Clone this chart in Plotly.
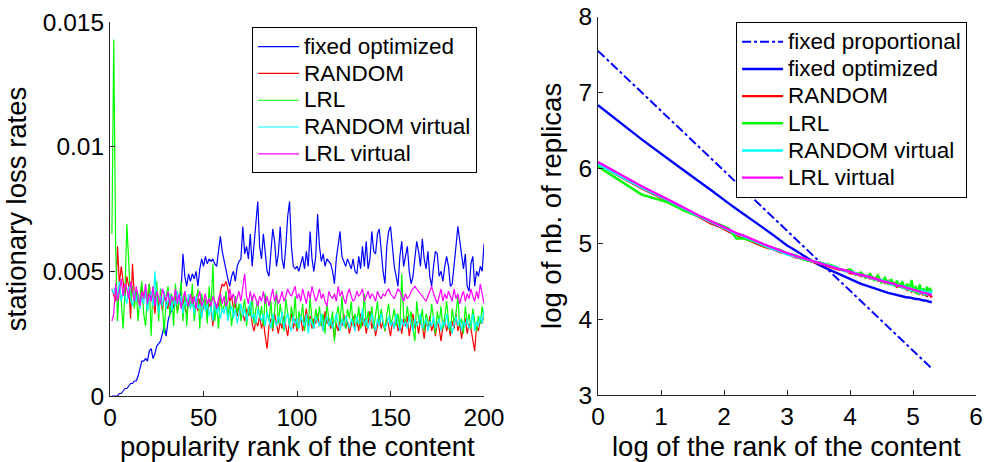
import numpy as np
import plotly.graph_objects as go

# ---------------- Left panel data (loss rates, units of 1e-4) ----------------
rank_left = list(range(1, 201))

loss_fixed_opt_e4 = [
    0, 0, 0, 0, 1, 1, 2, 3, 3, 4,
    5, 5, 6, 6, 8, 11, 14, 14, 15, 14,
    18, 19, 15, 17, 20, 21, 22, 25, 28, 24,
    30, 33, 34, 36, 38, 40, 39, 42, 57, 48,
    44, 49, 46, 49, 47, 50, 44, 51, 55, 52,
    56, 53, 55, 54, 55, 53, 52, 57, 64, 58,
    54, 50, 47, 44, 48, 50, 46, 52, 54, 55,
    68, 57, 60, 55, 65, 52, 62, 70, 78, 60,
    55, 65, 58, 50, 48, 56, 67, 62, 52, 57,
    68, 55, 51, 60, 72, 78, 60, 52, 51, 52,
    50, 53, 56, 51, 58, 52, 66, 55, 50, 56,
    73, 60, 54, 57, 52, 55, 54, 53, 50, 45,
    55, 60, 66, 56, 54, 52, 55, 53, 51, 55,
    50, 49, 56, 51, 60, 52, 62, 51, 55, 66,
    58, 57, 65, 67, 58, 50, 45, 60, 66, 68,
    60, 52, 48, 44, 56, 62, 52, 56, 60, 50,
    45, 48, 56, 62, 58, 52, 63, 55, 51, 58,
    48, 44, 52, 58, 57, 48, 50, 46, 52, 56,
    52, 44, 45, 54, 60, 68, 62, 55, 51, 57,
    44, 42, 53, 56, 44, 50, 48, 52, 50, 61,
]

loss_random_e4 = [
    43, 40, 38, 60, 45, 52, 47, 40, 48, 44,
    31, 53, 40, 42, 38, 36, 44, 40, 42, 35,
    45, 38, 40, 33, 42, 36, 39, 34, 40, 37,
    35, 41, 38, 36, 40, 34, 38, 36, 39, 35,
    33, 38, 36, 40, 35, 37, 34, 39, 32, 36,
    38, 33, 37, 35, 28, 38, 34, 36, 42, 45,
    44, 46, 43, 38, 40, 35, 37, 32, 36, 31,
    33, 30, 35, 32, 36, 29, 26, 30, 28, 32,
    27, 30, 24, 19, 28, 31, 26, 33, 29, 25,
    30, 27, 32, 28, 24, 30, 33, 27, 31, 26,
    29, 32, 26, 30, 35, 28, 32, 27, 31, 29,
    33, 28, 30, 26, 34, 29, 31, 27, 30, 23,
    29, 26, 31, 28, 33, 27, 30, 25, 29, 32,
    27, 30, 26, 33, 28, 31, 25, 29, 34, 27,
    30, 24, 28, 32, 27, 30, 26, 31, 28, 24,
    30, 27, 33, 26, 29, 25, 31, 28, 32, 24,
    29, 33, 27, 30, 25, 31, 28, 23, 30, 27,
    32, 26, 29, 24, 30, 27, 22, 28, 31, 26,
    29, 24, 30, 27, 33, 26, 29, 23, 28, 31,
    25, 29, 27, 22, 18, 28, 26, 31, 29, 33,
]

loss_lrl_e4 = [
    65, 143, 60, 30, 45, 38, 27, 42, 69, 50,
    38, 44, 35, 42, 30, 40, 46, 33, 28, 40,
    45, 24, 44, 38, 46, 30, 43, 36, 25, 40,
    44, 32, 41, 28, 45, 33, 38, 46, 30, 42,
    28, 40, 35, 45, 30, 38, 43, 27, 41, 36,
    39, 29, 44, 34, 53, 30, 37, 27, 40, 34,
    36, 42, 31, 38, 28, 35, 40, 33, 37, 30,
    34, 39, 28, 36, 32, 40, 29, 35, 38, 31,
    36, 28, 41, 33, 30, 38, 27, 35, 42, 29,
    37, 31, 26, 39, 33, 28, 36, 30, 40, 27,
    34, 30, 37, 26, 32, 29, 39, 31, 27, 35,
    30, 36, 28, 33, 25, 37, 31, 28, 34, 22,
    32, 36, 29, 40, 30, 27, 35, 31, 38, 28,
    33, 29, 36, 27, 31, 41, 28, 34, 30, 36,
    27, 32, 38, 29, 35, 30, 26, 33, 37, 29,
    31, 35, 28, 33, 27, 49, 32, 29, 36, 30,
    34, 27, 22, 38, 31, 29, 35, 26, 33, 30,
    28, 37, 31, 25, 34, 29, 36, 27, 32, 38,
    30, 26, 35, 29, 33, 40, 28, 31, 25, 36,
    29, 33, 27, 35, 30, 26, 32, 29, 36, 31,
]

loss_random_virtual_e4 = [
    43, 41, 44, 40, 46, 38, 42, 40, 37, 44,
    39, 36, 42, 38, 41, 35, 40, 37, 43, 34,
    39, 42, 36, 50, 38, 33, 40, 36, 42, 35,
    38, 41, 34, 39, 36, 42, 37, 40, 33, 38,
    36, 41, 35, 38, 33, 40, 35, 37, 31, 38,
    34, 37, 32, 36, 30, 38, 33, 36, 31, 35,
    33, 37, 30, 34, 36, 31, 35, 29, 33, 37,
    32, 35, 30, 34, 38, 31, 33, 29, 35, 32,
    30, 33, 28, 34, 31, 27, 33, 30, 28, 32,
    29, 34, 27, 31, 33, 28, 26, 32, 29, 31,
    27, 32, 30, 28, 33, 25, 31, 29, 27, 32,
    30, 28, 33, 26, 30, 32, 28, 31, 27, 30,
    33, 29, 26, 31, 28, 32, 30, 27, 31, 29,
    26, 32, 29, 30, 35, 28, 31, 27, 30, 33,
    29, 26, 31, 28, 33, 30, 27, 29, 32, 28,
    30, 27, 33, 29, 26, 31, 28, 30, 27, 32,
    29, 26, 31, 28, 30, 33, 27, 29, 31, 26,
    30, 28, 32, 27, 29, 31, 26, 30, 28, 33,
    27, 30, 25, 29, 32, 28, 31, 26, 30, 28,
    31, 27, 29, 33, 26, 30, 28, 32, 29, 35,
]

loss_lrl_virtual_e4 = [
    30, 33, 45, 38, 42, 47, 40, 45, 43, 39,
    46, 41, 38, 44, 40, 36, 42, 39, 45, 37,
    41, 38, 44, 36, 42, 39, 37, 43, 40, 38,
    42, 36, 40, 38, 43, 37, 41, 35, 39, 42,
    38, 36, 41, 37, 40, 35, 39, 42, 36, 38,
    41, 37, 39, 36, 40, 38, 35, 39, 41, 37,
    40, 36, 38, 43, 39, 41, 37, 40, 42, 38,
    44, 49, 40, 37, 42, 38, 41, 39, 36, 40,
    38, 42, 37, 40, 36, 39, 43, 38, 41, 37,
    39, 42, 38, 40, 43, 41, 40, 42, 44, 39,
    41, 38, 43, 40, 37, 42, 39, 44, 41, 38,
    40, 43, 39, 41, 38, 36, 42, 40, 39, 41,
    38, 44, 40, 42, 39, 37, 41, 43, 40, 38,
    39, 42, 40, 41, 43, 38, 40, 42, 39, 41,
    40, 38, 42, 40, 39, 41, 40, 42, 43, 41,
    40, 39, 41, 43, 42, 40, 38, 41, 39, 40,
    42, 43, 44, 43, 42, 41, 40, 39, 38, 40,
    42, 44, 41, 39, 37, 40, 43, 38, 41, 39,
    42, 40, 38, 43, 39, 41, 37, 40, 42, 38,
    41, 39, 43, 40, 38, 42, 39, 45, 41, 37,
]

left_x_ticks = [0, 50, 100, 150, 200]
left_y_ticks = [0, 0.005, 0.01, 0.015]
left_y_ticktext = ["0", "0.005", "0.01", "0.015"]

# ---------------- Right panel data (log of nb. of replicas) ----------------
rank_right = [1, 2, 3, 4, 5, 6, 7, 8, 9, 10,
              12, 14, 16, 18, 20, 23, 26, 30, 35, 40,
              45, 50, 55, 60, 65, 70, 75, 80, 85, 90,
              95, 100, 105, 110, 115, 120, 125, 130, 135, 140,
              145, 150, 155, 160, 165, 170, 175, 180, 185, 190,
              195, 200]

rep_fixed_prop = [7.55, 7.00, 6.68, 6.45, 6.27, 6.13, 6.01, 5.90, 5.81, 5.72,
                  5.58, 5.46, 5.35, 5.26, 5.17, 5.06, 4.97, 4.85, 4.73, 4.62,
                  4.53, 4.45, 4.37, 4.30, 4.24, 4.18, 4.13, 4.07, 4.03, 3.98,
                  3.94, 3.90, 3.86, 3.82, 3.79, 3.75, 3.72, 3.69, 3.66, 3.63,
                  3.60, 3.58, 3.55, 3.53, 3.50, 3.48, 3.45, 3.43, 3.41, 3.39,
                  3.37, 3.35]

rep_fixed_opt = [6.83, 6.38, 6.13, 5.95, 5.82, 5.71, 5.61, 5.53, 5.46, 5.40,
                 5.29, 5.20, 5.12, 5.04, 4.98, 4.91, 4.84, 4.77, 4.70, 4.65,
                 4.60, 4.56, 4.53, 4.50, 4.47, 4.45, 4.43, 4.41, 4.39, 4.38,
                 4.36, 4.35, 4.34, 4.33, 4.32, 4.31, 4.30, 4.30, 4.29, 4.29,
                 4.28, 4.28, 4.27, 4.27, 4.26, 4.26, 4.25, 4.25, 4.24, 4.24,
                 4.23, 4.23]

rep_random = [6.05, 5.73, 5.57, 5.44, 5.35, 5.27, 5.22, 5.16, 5.12, 5.08,
              5.02, 4.96, 4.93, 4.89, 4.87, 4.82, 4.80, 4.76, 4.73, 4.69,
              4.66, 4.65, 4.61, 4.61, 4.57, 4.58, 4.54, 4.55, 4.51, 4.52,
              4.48, 4.51, 4.46, 4.48, 4.43, 4.46, 4.42, 4.44, 4.39, 4.42,
              4.37, 4.41, 4.35, 4.39, 4.34, 4.37, 4.32, 4.36, 4.30, 4.35,
              4.31, 4.29]

rep_lrl = [6.02, 5.65, 5.55, 5.43, 5.36, 5.29, 5.25, 5.20, 5.07, 5.07,
           5.03, 4.97, 4.94, 4.92, 4.87, 4.85, 4.79, 4.77, 4.74, 4.72,
           4.68, 4.64, 4.66, 4.59, 4.62, 4.55, 4.60, 4.52, 4.58, 4.49,
           4.55, 4.46, 4.53, 4.44, 4.51, 4.42, 4.50, 4.40, 4.47, 4.38,
           4.52, 4.36, 4.44, 4.33, 4.46, 4.35, 4.41, 4.32, 4.43, 4.37,
           4.40, 4.36]

rep_random_virtual = [6.05, 5.74, 5.58, 5.45, 5.36, 5.29, 5.23, 5.18, 5.13, 5.10,
                      5.03, 4.98, 4.93, 4.90, 4.86, 4.83, 4.80, 4.77, 4.74, 4.71,
                      4.68, 4.64, 4.63, 4.61, 4.58, 4.58, 4.55, 4.54, 4.52, 4.52,
                      4.49, 4.50, 4.46, 4.47, 4.45, 4.45, 4.42, 4.44, 4.40, 4.42,
                      4.38, 4.40, 4.37, 4.38, 4.35, 4.38, 4.34, 4.37, 4.33, 4.36,
                      4.34, 4.38]

rep_lrl_virtual = [6.08, 5.76, 5.59, 5.46, 5.37, 5.30, 5.24, 5.19, 5.14, 5.11,
                   5.04, 4.99, 4.95, 4.91, 4.88, 4.84, 4.81, 4.78, 4.74, 4.70,
                   4.67, 4.65, 4.63, 4.60, 4.59, 4.57, 4.56, 4.54, 4.53, 4.51,
                   4.50, 4.49, 4.48, 4.47, 4.45, 4.44, 4.43, 4.43, 4.41, 4.41,
                   4.40, 4.39, 4.38, 4.38, 4.37, 4.36, 4.35, 4.35, 4.34, 4.33,
                   4.33, 4.32]

right_x_ticks = [0, 1, 2, 3, 4, 5, 6]
right_y_ticks = [3, 4, 5, 6, 7, 8]

# ---------------- Figure ----------------
BLUE, RED, GREEN, CYAN, MAGENTA = "#0000ff", "#ff0000", "#00ff00", "#00ffff", "#ff00ff"
FONT = "Liberation Sans, Arial, sans-serif"


def lg(name):
    # legend label rendered a bit larger than the (row-height-driving) legend font
    return '<span style="font-size:22.5px">' + name + '</span>'


fig = go.Figure()

xl = np.array(rank_left)
left_series = [
    ("fixed optimized", loss_fixed_opt_e4, BLUE),
    ("RANDOM", loss_random_e4, RED),
    ("LRL", loss_lrl_e4, GREEN),
    ("RANDOM virtual", loss_random_virtual_e4, CYAN),
    ("LRL virtual", loss_lrl_virtual_e4, MAGENTA),
]
for name, vals, col in left_series:
    fig.add_trace(go.Scatter(
        x=xl, y=np.array(vals) * 1e-4, mode="lines", name=lg(name),
        line=dict(color=col, width=1.2), xaxis="x", yaxis="y", legend="legend",
    ))

xr = np.log(np.array(rank_right))
fig.add_trace(go.Scatter(
    x=xr, y=rep_fixed_prop, mode="lines", name=lg("fixed proportional"),
    line=dict(color=BLUE, width=2, dash="dashdot"), xaxis="x2", yaxis="y2", legend="legend2",
))
right_series = [
    ("fixed optimized", rep_fixed_opt, BLUE),
    ("RANDOM", rep_random, RED),
    ("LRL", rep_lrl, GREEN),
    ("RANDOM virtual", rep_random_virtual, CYAN),
    ("LRL virtual", rep_lrl_virtual, MAGENTA),
]
for name, vals, col in right_series:
    fig.add_trace(go.Scatter(
        x=xr, y=vals, mode="lines", name=lg(name),
        line=dict(color=col, width=2.4), xaxis="x2", yaxis="y2", legend="legend2",
    ))

axis_common = dict(
    showline=True, linecolor="#262626", linewidth=1, ticks="inside", ticklen=5,
    tickcolor="#262626", showgrid=False, zeroline=False, mirror=False, automargin=False,
    tickfont=dict(family=FONT, size=24.5, color="black"),
)
title_font = dict(family=FONT, size=27.5, color="black")

fig.update_layout(
    width=986, height=462,
    margin=dict(l=0, r=0, t=0, b=0),
    paper_bgcolor="white", plot_bgcolor="white",
    font=dict(family=FONT, color="black"),
    xaxis=dict(domain=[0.1116, 0.4909], range=[0, 200], tickvals=left_x_ticks,
               anchor="y", **axis_common),
    yaxis=dict(domain=[0.1429, 0.9524], range=[0, 0.015], tickvals=left_y_ticks,
               ticktext=left_y_ticktext,
               title=dict(text="stationary loss rates", font=title_font, standoff=8),
               anchor="x", **axis_common),
    xaxis2=dict(domain=[0.6065, 0.9899], range=[0, 6], tickvals=right_x_ticks,
                anchor="y2", **axis_common),
    yaxis2=dict(domain=[0.145, 0.9636], range=[3, 8], tickvals=right_y_ticks,
                title=dict(text="log of nb. of replicas", font=title_font, standoff=8),
                anchor="x2", **axis_common),
    legend=dict(x=0.2556, y=0.941, xanchor="left", yanchor="top",
                bgcolor="white", bordercolor="black", borderwidth=1, itemwidth=41,
                font=dict(family=FONT, size=18.3, color="black"), tracegroupgap=0),
    legend2=dict(x=0.7465, y=0.952, xanchor="left", yanchor="top",
                 bgcolor="white", bordercolor="black", borderwidth=1, itemwidth=41,
                 font=dict(family=FONT, size=18.6, color="black"), tracegroupgap=0),
    showlegend=True,
    annotations=[
        dict(text="popularity rank of the content", xref="paper", yref="paper",
             x=0.3019, y=0.0725, xanchor="center", yanchor="top", showarrow=False,
             font=title_font),
        dict(text="log of the rank of the content", xref="paper", yref="paper",
             x=0.7977, y=0.0725, xanchor="center", yanchor="top", showarrow=False,
             font=title_font),
    ],
)

fig.write_html("out.html", config={"displayModeBar": False},
               post_script="document.body.style.margin='0px';")
